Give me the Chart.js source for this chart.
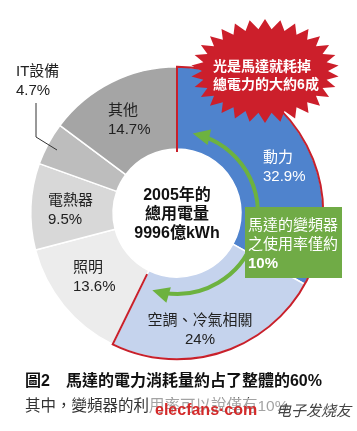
<!DOCTYPE html>
<html>
<head>
<meta charset="utf-8">
<script src="https://cdn.jsdelivr.net/npm/chart.js@4/dist/chart.umd.min.js"></script>
<style>
  html, body { margin: 0; padding: 0; background: #fff; }
  #wrap { position: relative; width: 357px; height: 431px; }
</style>
</head>
<body>
<div id="wrap"><canvas id="c" width="357" height="431"></canvas></div>
<script>
// ---- data ----
const categories = ['動力', '空調、冷氣相關', '照明', '電熱器', 'IT設備', '其他'];
const shares = [32.9, 24, 13.6, 9.5, 4.7, 14.7];
const centerLines = ['2005年的', '總用電量', '9996億kWh'];
const burstLines = ['光是馬達就耗掉', '總電力的大約6成'];
const inverterLines = ['馬達的變頻器', '之使用率僅約', '10%'];
const captionTitle = '圖2　馬達的電力消耗量約占了整體的60%';
const captionSub = '其中，變頻器的利用率可以說僅有10%';

// ---- styles ----
const sliceColors = ['#4f83cd', '#c5d3ed', '#ececec', '#d8d8d8', '#bdbdbd', '#a5a5a5'];
const FONT = '"Liberation Sans", "Noto Sans CJK TC", sans-serif';

// label placement, relative to the donut centre (x, y of first line), align, colour
const labelPlace = [
  { dx: 86, dy: -55, align: 'left', color: '#ffffff', bold: false },
  { dx: 23, dy: 108, align: 'center', color: '#222', bold: false },
  { dx: -104, dy: 55, align: 'left', color: '#222', bold: false },
  { dx: -129, dy: -12, align: 'left', color: '#222', bold: false },
  { dx: -161, dy: -141, align: 'left', color: '#222', bold: false },
  { dx: -69, dy: -102, align: 'left', color: '#222', bold: false }
];

const overlay = {
  id: 'overlay',
  afterDatasetsDraw(chart) {
    const ctx = chart.ctx;
    const meta = chart.getDatasetMeta(0);
    const a0 = meta.data[0], a1 = meta.data[1];
    const cx = a0.x, cy = a0.y;
    const R = a0.outerRadius, r = a0.innerRadius;

    // green double-headed arc arrow
    const ar = r + 17;
    const sA = a0.startAngle + 0.22, eA = a1.endAngle - 0.17;
    ctx.save();
    ctx.strokeStyle = '#6db23f';
    ctx.fillStyle = '#6db23f';
    ctx.lineWidth = 4;
    ctx.beginPath();
    ctx.arc(cx, cy, ar, sA + 0.12, eA - 0.12);
    ctx.stroke();
    function head(angle, dir) {
      const tx = cx + ar * Math.cos(angle), ty = cy + ar * Math.sin(angle);
      const tang = angle + dir * Math.PI / 2;
      const ux = Math.cos(tang), uy = Math.sin(tang);
      const nx = -uy, ny = ux;
      const L = 15, W = 8;
      ctx.beginPath();
      ctx.moveTo(tx + ux * 2, ty + uy * 2);
      ctx.lineTo(tx - ux * L + nx * W, ty - uy * L + ny * W);
      ctx.lineTo(tx - ux * L - nx * W, ty - uy * L - ny * W);
      ctx.closePath();
      ctx.fill();
    }
    head(sA, -1);
    head(eA, 1);
    ctx.restore();

    // red outline around motor share
    ctx.save();
    ctx.strokeStyle = '#c8202b';
    ctx.lineWidth = 2;
    const st = a0.startAngle, en = a1.endAngle;
    ctx.beginPath();
    ctx.moveTo(cx + (r - 3) * Math.cos(st), cy + (r - 3) * Math.sin(st));
    ctx.lineTo(cx + R * Math.cos(st), cy + R * Math.sin(st));
    ctx.arc(cx, cy, R, st, en);
    ctx.lineTo(cx + (r + 4) * Math.cos(en), cy + (r + 4) * Math.sin(en));
    ctx.stroke();
    ctx.restore();

    // slice labels
    ctx.save();
    ctx.textBaseline = 'middle';
    meta.data.forEach((arc, i) => {
      const p = labelPlace[i];
      ctx.fillStyle = p.color;
      ctx.textAlign = p.align;
      ctx.font = (p.bold ? 'bold ' : '') + '15px ' + FONT;
      ctx.fillText(categories[i], cx + p.dx, cy + p.dy);
      ctx.fillText(shares[i] + '%', cx + p.dx, cy + p.dy + 19);
    });
    // IT leader line
    ctx.strokeStyle = '#333';
    ctx.lineWidth = 1;
    ctx.beginPath();
    ctx.moveTo(cx - 141, cy - 110);
    ctx.lineTo(cx - 141, cy - 76);
    ctx.lineTo(cx - 120, cy - 63);
    ctx.stroke();

    // centre text
    ctx.fillStyle = '#111';
    ctx.textAlign = 'center';
    ctx.font = 'bold 16px ' + FONT;
    centerLines.forEach((t, i) => ctx.fillText(t, cx, cy - 17 + i * 19));

    // green box
    ctx.fillStyle = '#70ab46';
    ctx.fillRect(cx + 68, cy - 6, 97, 71);
    ctx.fillStyle = '#ffffff';
    ctx.textAlign = 'left';
    inverterLines.forEach((t, i) => {
      ctx.font = (i === 2 ? 'bold ' : '') + '15px ' + FONT;
      ctx.fillText(t, cx + 71, cy + 13 + i * 19);
    });

    // starburst callout
    const bx = cx + 88, by = cy - 142;
    const n = 30;
    ctx.fillStyle = '#cc1f2b';
    ctx.beginPath();
    for (let k = 0; k < n * 2; k++) {
      const t = (k / (n * 2)) * Math.PI * 2 - Math.PI / 2;
      const out = k % 2 === 0;
      const rx = out ? 74 : 63, ry = out ? 52 : 42;
      const px = bx + rx * Math.cos(t), py = by + ry * Math.sin(t);
      if (k === 0) ctx.moveTo(px, py); else ctx.lineTo(px, py);
    }
    ctx.closePath();
    ctx.fill();
    ctx.fillStyle = '#ffffff';
    ctx.textAlign = 'center';
    ctx.font = 'bold 14px ' + FONT;
    burstLines.forEach((t, i) => ctx.fillText(t, bx - 3 + i * 4, by - 4 + i * 18));

    // caption
    ctx.textAlign = 'left';
    ctx.fillStyle = '#111';
    ctx.font = 'bold 16px ' + FONT;
    ctx.fillText(captionTitle, 25, 382);
    ctx.fillStyle = '#333';
    ctx.font = '15.5px ' + FONT;
    ctx.fillText(captionSub, 25, 407);

    // watermark
    ctx.fillStyle = 'rgba(255,255,255,0.55)';
    ctx.fillRect(150, 398, 207, 24);
    ctx.fillStyle = '#d42a2a';
    ctx.font = 'bold 16px ' + FONT;
    ctx.fillText('elecfans·com', 155, 411);
    ctx.fillStyle = '#444';
    ctx.font = 'italic 15px "DejaVu Serif", "Noto Sans CJK SC", serif';
    ctx.fillText('电子发烧友', 276, 412);
    ctx.restore();
  }
};

new Chart(document.getElementById('c'), {
  type: 'doughnut',
  data: {
    labels: categories,
    datasets: [{
      data: shares,
      backgroundColor: sliceColors,
      borderColor: '#ffffff',
      borderWidth: 1.5,
      hoverOffset: 0
    }]
  },
  options: {
    responsive: false,
    animation: false,
    cutout: 64,
    layout: { padding: { left: 30, top: 66, right: 33, bottom: 71 } },
    plugins: { legend: { display: false }, tooltip: { enabled: false } }
  },
  plugins: [overlay]
});
</script>
</body>
</html>
